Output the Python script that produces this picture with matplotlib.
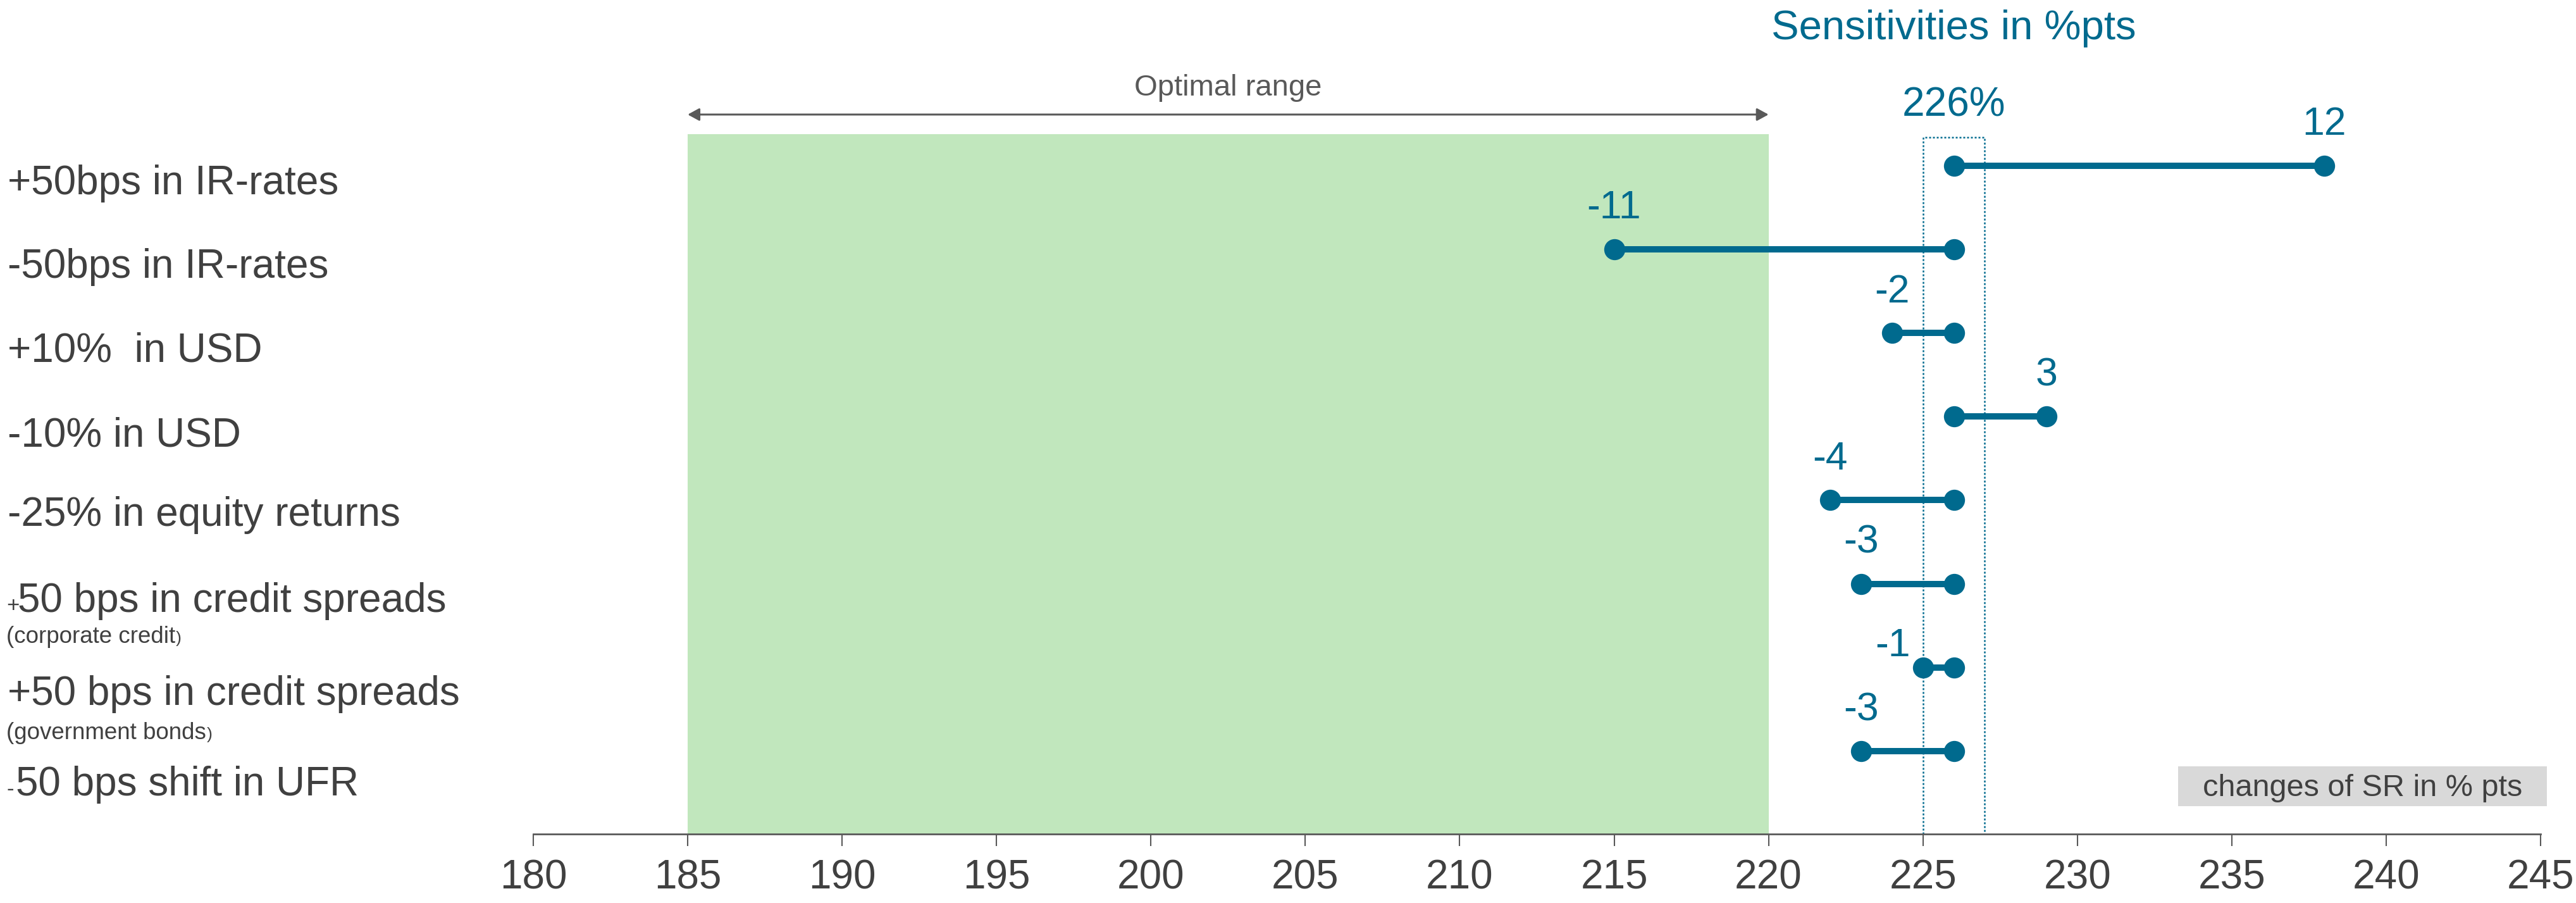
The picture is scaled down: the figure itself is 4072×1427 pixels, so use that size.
import matplotlib
matplotlib.use("Agg")
import matplotlib.pyplot as plt

plt.rcParams["font.family"] = ["Liberation Sans", "DejaVu Sans"]

# ---- data -------------------------------------------------------------
scenario_prefix = ["", "", "", "", "", "+", "", "-"]
scenario_main = [
    "+50bps in IR-rates",
    "-50bps in IR-rates",
    "+10%  in USD",
    "-10% in USD",
    "-25% in equity returns",
    "50 bps in credit spreads",
    "+50 bps in credit spreads",
    "50 bps shift in UFR",
]
scenario_sub = ["", "", "", "", "", "(corporate credit", "(government bonds", ""]

base_ratio = 226                      # solvency ratio, %
sensitivities = [12, -11, -2, 3, -4, -3, -1, -3]   # change in % pts
optimal_range = (185, 220)
xticks = list(range(180, 250, 5))

# ---- styling ----------------------------------------------------------
TEAL = "#006a8e"
DARK = "#404040"
GREY = "#595959"
GREEN = "#c1e7bd"

W, H, DPI = 4072, 1427, 100
fig = plt.figure(figsize=(W / DPI, H / DPI), dpi=DPI)

# axes spans from x=180 to x=245 and from the top of the canvas to the axis line
left_px, right_px, bottom_px = 843, 4016, 1318
ax = fig.add_axes([left_px / W, 1 - bottom_px / H, (right_px - left_px) / W, bottom_px / H])

row_px0, row_step = 262, 132.1          # pixel row layout
def ydata(p):
    return (p - row_px0) / row_step

ax.set_xlim(180, 245)
ax.set_ylim(ydata(bottom_px), ydata(0))

# optimal range band and the arrow above it
band_top = ydata(212)
ax.fill_betweenx([band_top, ydata(bottom_px)], optimal_range[0], optimal_range[1],
                 color=GREEN, lw=0, zorder=0)
arrow_y = ydata(181)
ax.annotate("", xy=(optimal_range[1], arrow_y), xytext=(optimal_range[0], arrow_y),
            arrowprops=dict(arrowstyle="<|-|>,head_length=0.55,head_width=0.3",
                            mutation_scale=20, lw=2.2, color=GREY,
                            shrinkA=0, shrinkB=0))
ax.text(sum(optimal_range) / 2, ydata(151), "Optimal range", fontsize=34,
        color=GREY, ha="center", va="baseline")

# dotted box around the current ratio
box_top = ydata(217)
ax.plot([base_ratio - 1, base_ratio - 1, base_ratio + 1, base_ratio + 1],
        [ydata(bottom_px), box_top, box_top, ydata(bottom_px)],
        color=TEAL, lw=1.8, ls=(0, (1.2, 1.2)), zorder=1)

ax.text(base_ratio, ydata(183), f"{base_ratio}%", fontsize=46, color=TEAL,
        ha="center", va="baseline")
ax.text(base_ratio, ydata(62), "Sensitivities in %pts", fontsize=47, color=TEAL,
        ha="center", va="baseline")

# dumbbells
for i, d in enumerate(sensitivities):
    end = base_ratio + d
    ax.plot([base_ratio, end], [i, i], color=TEAL, lw=7.2, solid_capstyle="butt",
            zorder=3)
    ax.plot([base_ratio, end], [i, i], ls="none", marker="o", ms=24,
            color=TEAL, mec="none", zorder=4)
    if abs(d) <= 1:
        ax.annotate(f"{d}", xy=(end, i), xytext=(-14, 13), textcoords="offset points",
                    fontsize=45, color=TEAL, ha="right", va="baseline")
    else:
        ax.annotate(f"{d}", xy=(end, i), xytext=(0, 35), textcoords="offset points",
                    fontsize=45, color=TEAL, ha="center", va="baseline")

# axis
for s in ("top", "left", "right"):
    ax.spines[s].set_visible(False)
ax.spines["bottom"].set_color(GREY)
ax.spines["bottom"].set_linewidth(2)
ax.set_yticks([])
ax.set_xticks(xticks)
ax.set_xticklabels([str(t) for t in xticks])
ax.tick_params(axis="x", length=13.7, width=1.5, color=GREY, pad=15,
               labelsize=46, labelcolor=DARK)
ax.patch.set_visible(False)

# note box in the lower right corner
note_l, note_r, note_t, note_b = 3443, 4026, 1211, 1274
fig.patches.append(plt.Rectangle((note_l / W, 1 - note_b / H),
                                 (note_r - note_l) / W, (note_b - note_t) / H,
                                 transform=fig.transFigure, color="#d9d9d9",
                                 lw=0, zorder=1))
fig.text((note_l + note_r) / 2 / W, 1 - 1258 / H, "changes of SR in % pts",
         fontsize=35, color=DARK, ha="center", va="baseline", zorder=2)

# scenario labels
label_baseline_px = [307, 439, 571, 706, 831, 967, 1114, 1257]
sub_baseline_px = {5: 1016, 6: 1168}
renderer = fig.canvas.get_renderer()
for i, (pre, main, sub) in enumerate(zip(scenario_prefix, scenario_main, scenario_sub)):
    yb = 1 - label_baseline_px[i] / H
    x0 = 12
    if pre:
        fig.text(10 / W, yb, pre, fontsize=25, color=DARK, ha="left", va="baseline")
        x0 = 28 if pre == "+" else 25
    fig.text(x0 / W, yb, main, fontsize=46, color=DARK, ha="left", va="baseline")
    if sub:
        ys = 1 - sub_baseline_px[i] / H
        t = fig.text(10 / W, ys, sub, fontsize=26.5, color=DARK, ha="left",
                     va="baseline")
        bb = t.get_window_extent(renderer=renderer)
        fig.text((bb.x1 + 1) / W, ys, ")", fontsize=19, color=DARK, ha="left",
                 va="baseline")

fig.savefig("out.png", dpi=DPI)
